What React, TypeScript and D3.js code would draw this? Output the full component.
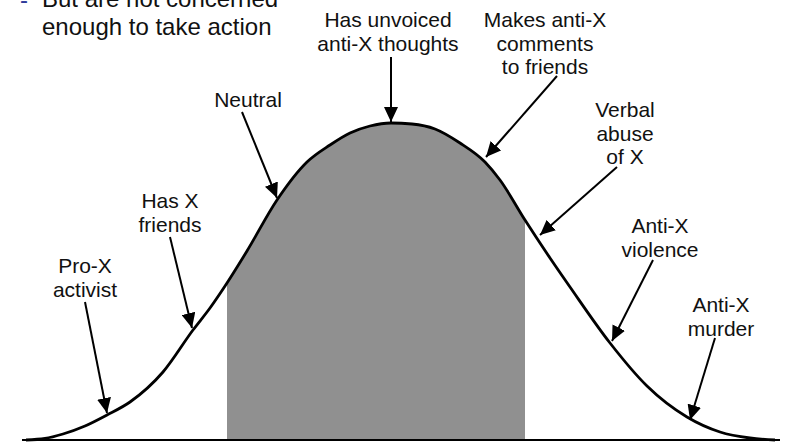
import React from "react";
import { scaleLinear, line, area, curveMonotoneX } from "d3";

// bell curve: position along the attitude axis, height above baseline
const curveX = [26, 45, 63, 85, 107, 130, 163, 193, 210, 227, 247, 277, 307, 330, 350, 370, 391,
  412, 435, 460, 485, 500, 525, 550, 570, 610, 647, 687, 720, 750, 775];
const curveH = [0, 1.5, 6, 14, 25, 38, 68, 110, 132, 157, 189, 240, 278, 295, 307, 314, 317,
  316, 311, 297, 278, 260, 220, 182, 153, 97, 54, 23, 8, 2, 0];

// shaded "silent majority" band
const shadeFrom = 227;
const shadeTo = 525;

const axisFrom = 22;
const axisTo = 780;

const labelLines = [
  ["Pro-X", "activist"],
  ["Has X", "friends"],
  ["Neutral"],
  ["Has unvoiced", "anti-X thoughts"],
  ["Makes anti-X", "comments", "to friends"],
  ["Verbal", "abuse", "of X"],
  ["Anti-X", "violence"],
  ["Anti-X", "murder"],
];

// where each arrow points (x on the axis, height above baseline)
const arrowTipX = [107, 192, 277, 391, 486, 540, 612, 690];
const arrowTipH = [27, 112, 242, 318, 283, 205, 99, 20];

const noteLines = ["But are not concerned", "enough to take action"];

const W = 804;
const H = 442;
const FONT = "'Liberation Sans', Arial, Helvetica, sans-serif";

// label layout: text centre, first baseline, arrow start
const layout = [
  { cx: 85, y: 273, sx: 85, sy: 302 },
  { cx: 170, y: 208, sx: 170, sy: 237 },
  { cx: 248, y: 107, sx: 242, sy: 112 },
  { cx: 388, y: 27, sx: 391, sy: 57 },
  { cx: 545, y: 27, sx: 557, sy: 76 },
  { cx: 625, y: 117, sx: 617, sy: 167 },
  { cx: 660, y: 233, sx: 653, sy: 260 },
  { cx: 721, y: 312, sx: 715, sy: 338 },
];

const App = () => {
  const x = scaleLinear().domain([0, W]).range([0, W]);
  const y = scaleLinear().domain([0, 317]).range([440, 123]);

  const pts = curveX.map((d, i) => [d, curveH[i]] as [number, number]);

  const path = line<[number, number]>()
    .x((d) => x(d[0]))
    .y((d) => y(d[1]))
    .curve(curveMonotoneX);

  const fill = area<[number, number]>()
    .x((d) => x(d[0]))
    .y0(y(0))
    .y1((d) => y(d[1]))
    .curve(curveMonotoneX);

  return (
    <svg width={W} height={H} style={{ position: "absolute", left: 0, top: 0 }}>
      <defs>
        <clipPath id="band">
          <rect x={x(shadeFrom)} y={0} width={x(shadeTo) - x(shadeFrom)} height={H} />
        </clipPath>
        <marker
          id="head"
          markerUnits="userSpaceOnUse"
          markerWidth={16}
          markerHeight={14}
          refX={15}
          refY={7}
          orient="auto"
        >
          <path d="M0,0 L15,7 L0,14 Z" fill="#000" />
        </marker>
      </defs>

      <path d={fill(pts) || ""} fill="#909090" clipPath="url(#band)" />
      <line x1={x(axisFrom)} x2={x(axisTo)} y1={y(0)} y2={y(0)} stroke="#000" strokeWidth={2} />
      <path d={path(pts) || ""} fill="none" stroke="#000" strokeWidth={2.8} />

      {labelLines.map((lines, i) => {
        const l = layout[i];
        return (
          <g key={i}>
            <text textAnchor="middle" fontFamily={FONT} fontSize={21} fill="#111">
              {lines.map((t, j) => (
                <tspan key={j} x={l.cx} y={l.y + j * 23.5}>
                  {t}
                </tspan>
              ))}
            </text>
            <line
              x1={l.sx}
              y1={l.sy}
              x2={x(arrowTipX[i])}
              y2={y(arrowTipH[i])}
              stroke="#000"
              strokeWidth={2}
              markerEnd="url(#head)"
            />
          </g>
        );
      })}

      <text x={20} y={8} fontFamily={FONT} fontSize={24} fill="#2F3B9A">
        -
      </text>
      <text fontFamily={FONT} fontSize={24} fill="#111">
        {noteLines.map((t, j) => (
          <tspan key={j} x={42} y={7 + j * 27.5}>
            {t}
          </tspan>
        ))}
      </text>
    </svg>
  );
};

export default App;
